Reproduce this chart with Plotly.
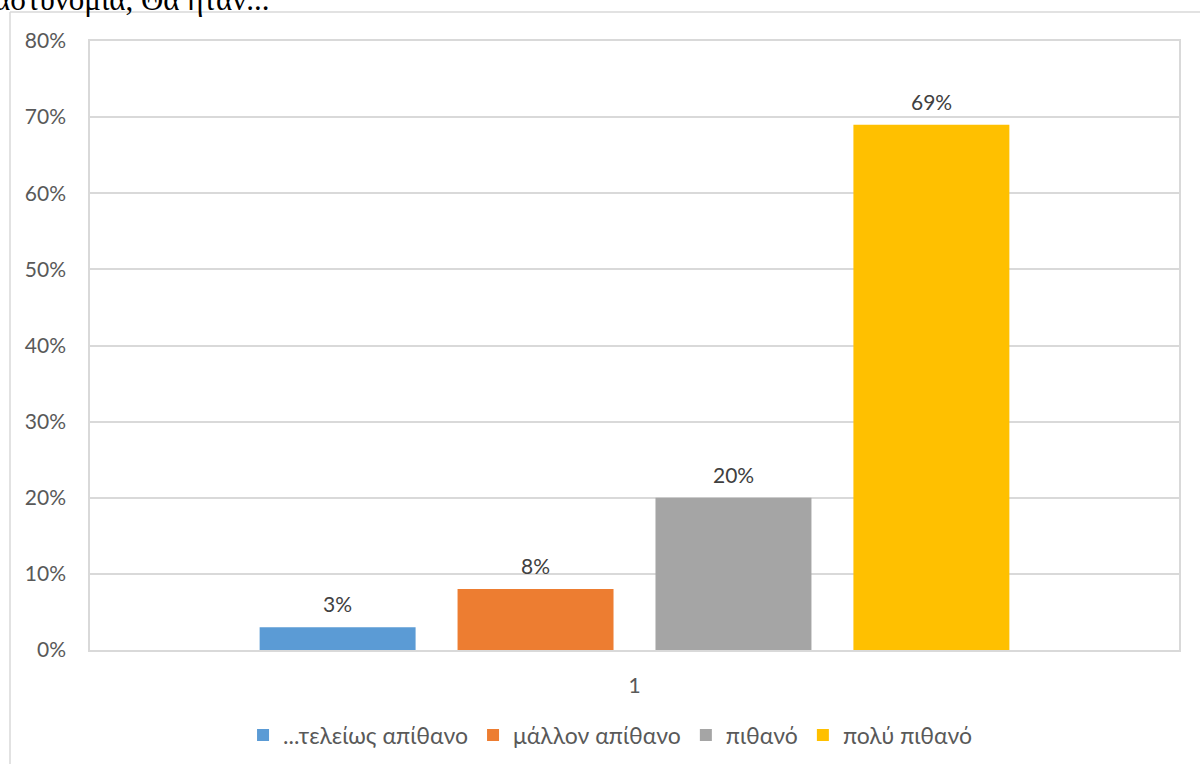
import plotly.graph_objects as go

categories = ["1"]
series_names = ["...τελείως απίθανο", "μάλλον απίθανο", "πιθανό", "πολύ πιθανό"]
series_values = [0.03, 0.08, 0.20, 0.69]
series_colors = ["#5B9BD5", "#ED7D31", "#A5A5A5", "#FFC000"]
y_ticks = [0, 0.1, 0.2, 0.3, 0.4, 0.5, 0.6, 0.7, 0.8]
y_ticklabels = ["0%", "10%", "20%", "30%", "40%", "50%", "60%", "70%", "80%"]
header_text = "αστυνομία, Θα ήταν..."

FONT = "Lato, 'Open Sans', sans-serif"
BARGAP, BARGROUPGAP = 0.273, 0.212

fig = go.Figure()
for name, val, col in zip(series_names, series_values, series_colors):
    fig.add_trace(go.Bar(
        x=categories, y=[val], name=name,
        marker=dict(color=col, line=dict(width=0)),
    ))

# data labels above bars, positioned from the bar-group layout
n = len(series_values)
group = 1 - BARGAP
slot = group / n
for i, val in enumerate(series_values):
    fig.add_annotation(x=-group / 2 + slot * (i + 0.5), y=val, xref="x", yref="y",
                       text=f"{round(val*100)}%", showarrow=False,
                       yanchor="bottom", yshift=9,
                       font=dict(size=21, color="#404040", family=FONT))

L, R, T, B = 90, 21, 41, 114
W, H = 1200, 764
pw, ph = W - L - R, H - T - B

fig.update_layout(
    width=W, height=H,
    margin=dict(l=L, r=R, t=T, b=B, pad=0, autoexpand=False),
    paper_bgcolor="white", plot_bgcolor="white",
    barmode="group", bargap=BARGAP, bargroupgap=BARGROUPGAP,
    font=dict(family=FONT, size=21, color="#595959"),
    showlegend=True,
    legend=dict(orientation="h", x=0.478, xanchor="center", y=-0.1396, yanchor="middle",
                font=dict(size=23, color="#595959", family=FONT),
                itemwidth=30, traceorder="normal"),
    xaxis=dict(showgrid=False, showline=True, linecolor="#D9D9D9", linewidth=1.5, mirror=True,
               ticks="", tickfont=dict(size=21, color="#595959"), ticklabelstandoff=16,
               automargin=False),
    yaxis=dict(range=[0, 0.8], tickvals=y_ticks, ticktext=y_ticklabels,
               showgrid=True, gridcolor="#D9D9D9", gridwidth=1.5,
               showline=True, linecolor="#D9D9D9", linewidth=1.5, mirror=True,
               zeroline=False, ticks="", ticklabelstandoff=18, automargin=False,
               tickfont=dict(size=21, color="#595959")),
)

# outer chart frame (left and top edges)
fx = (10 - L) / pw
fy = 1 + (T - 12) / ph
fig.add_shape(type="line", xref="paper", yref="paper", x0=fx, x1=fx, y0=fy, y1=-1,
              line=dict(color="#D9D9D9", width=1.5))
fig.add_shape(type="line", xref="paper", yref="paper", x0=fx, x1=2, y0=fy, y1=fy,
              line=dict(color="#D9D9D9", width=1.5))

# header text from the document above, cut by the top edge as in the source
fig.add_annotation(text=header_text, xref="paper", yref="paper",
                   x=(-8 - L) / pw, xanchor="left", y=1 + (T + 1) / ph, yanchor="middle",
                   showarrow=False,
                   font=dict(family="'Liberation Serif', 'DejaVu Serif', serif", size=31, color="#000000"))

fig.write_html("out.html", config={"displayModeBar": False},
               post_script="document.body.style.margin='0';document.body.style.overflow='hidden';")
